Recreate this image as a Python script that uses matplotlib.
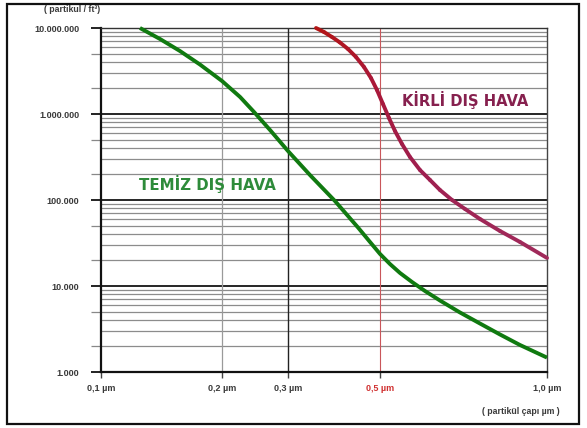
import numpy as np
import matplotlib
matplotlib.use("Agg")
import matplotlib.pyplot as plt
from matplotlib.ticker import FixedLocator, NullFormatter, LogLocator
from matplotlib.collections import LineCollection
from matplotlib.colors import LinearSegmentedColormap
from matplotlib.patches import Rectangle
from matplotlib.font_manager import FontProperties

# ---------------- data ----------------
x_tick_values = [0.1, 0.2, 0.3, 0.5, 1.0]
x_tick_labels = ["0,1 µm", "0,2 µm", "0,3 µm", "0,5 µm", "1,0 µm"]
# relative positions of the x ticks on the (hand drawn, non-uniform) axis
x_tick_positions = [0, 121, 187, 279, 446]

y_tick_values = [1e3, 1e4, 1e5, 1e6, 1e7]
y_tick_labels = ["1.000", "10.000", "100.000", "1.000.000", "10.000.000"]

temiz_size = [0.1250, 0.1402, 0.1572, 0.1763, 0.2000, 0.2234, 0.2435, 0.2686, 0.3000,
              0.3390, 0.3894, 0.4425, 0.4730, 0.5000, 0.5212, 0.5433, 0.5711, 0.6026,
              0.6413, 0.6969, 0.7573, 0.8228, 0.8940, 1.0000]
temiz_count = [1.0e7, 7.45e6, 5.40e6, 3.76e6, 2.42e6, 1.58e6, 1.055e6, 6.52e5, 3.71e5,
               1.95e5, 9.73e4, 4.79e4, 3.25e4, 2.36e4, 1.80e4, 1.417e4, 1.113e4, 8.75e3,
               6.78e3, 4.92e3, 3.66e3, 2.73e3, 2.06e3, 1.47e3]

kirli_size = [0.3505, 0.3664, 0.3830, 0.4004, 0.4186, 0.4376, 0.4575, 0.4756, 0.4917,
              0.5062, 0.5190, 0.5321, 0.5478, 0.5663, 0.5903, 0.6153, 0.6413, 0.6742,
              0.7116, 0.7573, 0.8228, 0.8940, 1.0000]
kirli_count = [1.0e7, 8.98e6, 7.86e6, 6.78e6, 5.70e6, 4.60e6, 3.52e6, 2.62e6, 1.90e6,
               1.307e6, 8.98e5, 6.34e5, 4.48e5, 3.16e5, 2.23e5, 1.71e5, 1.307e5, 1.0e5,
               7.86e4, 6.01e4, 4.36e4, 3.25e4, 2.12e4]

# ---------------- figure ----------------
W, H = 587, 428
fig = plt.figure(figsize=(W / 100, H / 100), dpi=100)
fig.patch.set_facecolor("white")

L, R, T, B = 101, 547, 28, 372
ax = fig.add_axes([L / W, (H - B) / H, (R - L) / W, (B - T) / H])

log_ticks = np.log10(x_tick_values)
pos = np.array(x_tick_positions, dtype=float)


def fwd(x):
    x = np.asarray(x, dtype=float)
    lx = np.log10(np.clip(x, 1e-6, None))
    return np.interp(lx, log_ticks, pos)


def inv(p):
    p = np.asarray(p, dtype=float)
    return 10 ** np.interp(p, pos, log_ticks)


ax.set_xscale("function", functions=(fwd, inv))
ax.set_yscale("log")
ax.set_xlim(0.1, 1.0)
ax.set_ylim(1e3, 1e7)

# horizontal grid
minor_vals = [m * 10 ** d for d in range(3, 7) for m in range(2, 10)]
ax.hlines(minor_vals, 0.1, 1.0, colors="#8c8c8c", lw=0.9, zorder=1)
ax.hlines(y_tick_values[1:], 0.1, 1.0, colors="#151515", lw=1.3, zorder=1.5)

# vertical lines
ax.axvline(0.2, color="#9a9a9a", lw=0.9, zorder=1.6)
ax.axvline(0.3, color="#222222", lw=1.0, zorder=1.6)
ax.axvline(0.5, color="#c9565a", lw=0.8, zorder=1.6)

# curves
ax.plot(temiz_size, temiz_count, color="#107a10", lw=2.8, solid_capstyle="butt",
        solid_joinstyle="round", zorder=5, clip_on=False)

xs = np.array(kirli_size)
ys = np.array(kirli_count)
pts = np.column_stack([xs, ys]).reshape(-1, 1, 2)
segs = np.concatenate([pts[:-1], pts[1:]], axis=1)
cmap = LinearSegmentedColormap.from_list("kr", ["#b31515", "#aa1838", "#9e1f50", "#a02a5a"])
lc = LineCollection(segs, cmap=cmap, linewidths=2.8, zorder=5, clip_on=False,
                    capstyle="round", joinstyle="round")
lc.set_array(np.linspace(0, 1, len(segs)))
ax.add_collection(lc)

# spines
for s in ["left", "bottom"]:
    ax.spines[s].set_linewidth(1.6)
    ax.spines[s].set_color("#111111")
ax.spines["right"].set_linewidth(1.0)
ax.spines["right"].set_color("#444444")
ax.spines["top"].set_linewidth(1.0)
ax.spines["top"].set_color("#333333")

# ticks
ax.xaxis.set_major_locator(FixedLocator(x_tick_values))
ax.set_xticklabels(x_tick_labels)
ax.xaxis.set_minor_locator(FixedLocator([]))
ax.yaxis.set_major_locator(FixedLocator(y_tick_values))
ax.set_yticklabels(y_tick_labels)
ax.yaxis.set_minor_locator(LogLocator(base=10, subs=(2.0, 5.0)))
ax.yaxis.set_minor_formatter(NullFormatter())

tick_font = FontProperties(family="Liberation Sans", weight="bold", size=6.5)
ax.tick_params(axis="y", which="major", direction="out", length=7.5, width=1.3,
               color="#111111", pad=8, labelcolor="#3a3a3a")
ax.tick_params(axis="y", which="minor", direction="out", length=7.5, width=0.9,
               color="#888888")
ax.tick_params(axis="x", which="major", direction="out", length=4.5, width=1.0,
               color="#444444", pad=4, labelcolor="#3a3a3a")
for lab in ax.get_xticklabels() + ax.get_yticklabels():
    lab.set_fontproperties(tick_font)
ax.get_xticklabels()[3].set_color("#d03030")

# in-chart labels
ax.text(0.1835, 1.53e5, "TEMİZ DIŞ HAVA", color="#2e8b3a", fontsize=10.8,
        fontweight="bold", family="DejaVu Sans", ha="center", va="center", zorder=6)
ax.text(0.712, 1.46e6, "KİRLİ DIŞ HAVA", color="#86204e", fontsize=10.6,
        fontweight="bold", family="DejaVu Sans", ha="center", va="center", zorder=6)

# axis titles
fig.text(72 / W, 1 - 10 / H, "( partikul / ft³)", fontsize=6.3, fontweight="bold",
         family="Liberation Sans", color="#3a3a3a", ha="center", va="center")
fig.text(560 / W, 1 - 411 / H, "( partikül çapı µm )", fontsize=6.3, fontweight="bold",
         family="Liberation Sans", color="#3a3a3a", ha="right", va="center")

# outer frame
fig.patches.append(Rectangle((7 / W, 1 - 424 / H), 572 / W, 420 / H,
                             transform=fig.transFigure, fill=False,
                             edgecolor="#111111", lw=1.6))

fig.savefig("out.png", dpi=100)
